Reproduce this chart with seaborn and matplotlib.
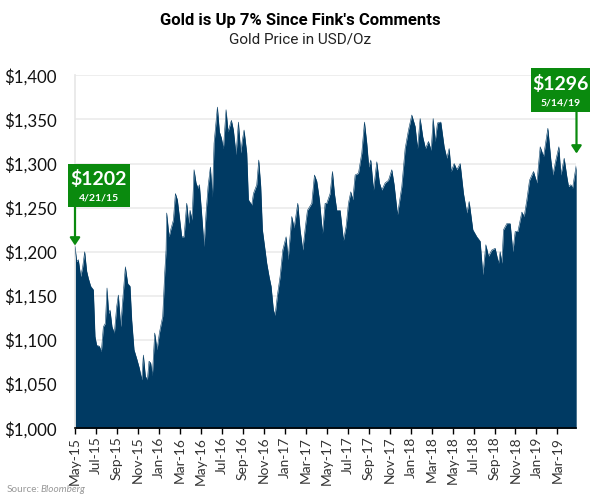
#!/usr/bin/env python
"""
Gold price area chart, May-15 to May-19.
"""

import matplotlib
matplotlib.use("Agg")
import matplotlib.pyplot as plt
import seaborn as sns
from matplotlib.patches import Rectangle

sns.set_style("white")
plt.rcParams['font.family'] = ['Lato', 'DejaVu Sans']

# position along the axis (sessions since the first point) and price
sessions = [
    0, 5, 10, 17, 23, 29, 35, 40, 47, 55, 60, 65, 73, 79, 85, 91, 96, 101, 105, 111,
    118, 125, 130, 137, 143, 151, 158, 165, 170, 177, 185, 193, 200, 205, 211, 217, 222, 227, 232, 239,
    246, 253, 263, 269, 273, 275, 282, 287, 295, 301, 307, 313, 320, 327, 335, 341, 345, 351, 357, 363,
    369, 373, 379, 387, 393, 399, 406, 412, 417, 427, 433, 439, 445, 453, 459, 469, 475, 483, 490, 497,
    502, 507, 515, 520, 530, 535, 545, 551, 557, 562, 570, 575, 582, 588, 595, 600, 607, 615, 623, 633,
    639, 650, 657, 668, 675, 683, 691, 697, 710, 718, 725, 733, 742, 750, 755, 765, 772, 778, 785, 795,
    805, 813, 820, 827, 833, 840, 850, 860, 868, 875, 881, 887, 895, 905, 913, 920, 930, 940, 950, 957,
    967, 980, 990, 1000, 1010, 1020, 1027, 1035, 1043, 1051, 1060, 1068, 1074, 1080, 1087, 1097, 1107, 1115, 1122, 1128,
    1137, 1145, 1155, 1165, 1175, 1182, 1193, 1205, 1215, 1223, 1232, 1240, 1250, 1260, 1270, 1275, 1280, 1285, 1295, 1305,
    1313, 1320, 1328, 1340, 1347, 1355, 1363, 1375, 1385, 1395, 1405, 1418, 1427, 1433, 1442, 1451, 1457, 1467, 1475, 1480,
    1487, 1492, 1503,
]
prices = [
    1206, 1189, 1191, 1172, 1183, 1200, 1178, 1170, 1161, 1157, 1104, 1094, 1093, 1087, 1115, 1119, 1159, 1130, 1134, 1115,
    1108, 1138, 1151, 1115, 1145, 1183, 1164, 1161, 1123, 1089, 1079, 1068, 1055, 1083, 1059, 1055, 1076, 1074, 1060, 1108,
    1089, 1108, 1127, 1176, 1202, 1244, 1217, 1225, 1236, 1266, 1259, 1240, 1217, 1217, 1255, 1232, 1247, 1236, 1293, 1278,
    1272, 1276, 1247, 1206, 1244, 1274, 1296, 1262, 1323, 1364, 1336, 1329, 1317, 1361, 1336, 1349, 1338, 1310, 1347, 1312,
    1327, 1338, 1312, 1259, 1253, 1266, 1276, 1304, 1274, 1225, 1202, 1187, 1172, 1161, 1134, 1128, 1151, 1172, 1202, 1217,
    1191, 1240, 1227, 1255, 1225, 1202, 1229, 1247, 1255, 1287, 1280, 1259, 1221, 1255, 1255, 1266, 1291, 1266, 1247, 1247,
    1213, 1229, 1255, 1268, 1259, 1287, 1289, 1312, 1347, 1323, 1296, 1304, 1270, 1302, 1278, 1270, 1278, 1281, 1293, 1276,
    1242, 1274, 1317, 1338, 1355, 1342, 1317, 1351, 1330, 1317, 1325, 1315, 1351, 1325, 1346, 1347, 1319, 1306, 1317, 1291,
    1300, 1293, 1300, 1266, 1244, 1257, 1225, 1217, 1212, 1174, 1208, 1195, 1202, 1204, 1187, 1200, 1187, 1225, 1232, 1232,
    1200, 1223, 1223, 1245, 1240, 1259, 1281, 1291, 1278, 1319, 1308, 1340, 1304, 1287, 1304, 1319, 1287, 1306, 1285, 1274,
    1276, 1272, 1298,
]

month_labels = [
    'May-15', 'Jul-15', 'Sep-15', 'Nov-15', 'Jan-16', 'Mar-16', 'May-16', 'Jul-16',
    'Sep-16', 'Nov-16', 'Jan-17', 'Mar-17', 'May-17', 'Jul-17', 'Sep-17', 'Nov-17',
    'Jan-18', 'Mar-18', 'May-18', 'Jul-18', 'Sep-18', 'Nov-18', 'Jan-19', 'Mar-19',
]
month_step = 62.9
y_ticks = [1000, 1050, 1100, 1150, 1200, 1250, 1300, 1350, 1400]

NAVY = '#003a63'
GREEN = '#0a8a0e'
W, H = 600, 499

fig = plt.figure(figsize=(6, 4.99), dpi=100)
ax = fig.add_axes([75 / W, 1 - 428.3 / H, (576.2 - 75) / W, (428.3 - 75.3) / H])

ax.fill_between(sessions, prices, 1000, color=NAVY, linewidth=0, zorder=2)
sns.lineplot(x=sessions, y=prices, ax=ax, color=NAVY, linewidth=0.4, zorder=3)

ax.set_xlim(0, sessions[-1])
ax.set_ylim(1000, 1400)
ax.set_yticks(y_ticks)
ax.set_yticklabels([f'${v:,}' for v in y_ticks], fontsize=12.2, color='#111111')
ax.set_xticks([i * month_step for i in range(len(month_labels))])
ax.set_xticklabels(month_labels, rotation=90, fontsize=9.9, color='#333333')
ax.tick_params(axis='x', length=4, width=1, color='black', pad=2, bottom=True)
ax.tick_params(axis='y', length=0, pad=13)
ax.grid(True, axis='y', color='#ebebeb', linewidth=1.2, zorder=0)
ax.set_axisbelow(True)
for side in ['top', 'right']:
    ax.spines[side].set_visible(False)
ax.spines['left'].set_color('#e6e6e6')
ax.spines['left'].set_linewidth(1.2)
ax.spines['bottom'].set_color('black')
ax.spines['bottom'].set_linewidth(1.2)
ax.spines['bottom'].set_zorder(5)

# titles and source
fig.text(300 / W, 1 - 20 / H, "Gold is Up 7% Since Fink's Comments", ha='center', va='center',
         fontsize=12, fontweight='bold', family='Roboto', color='black')
fig.text(300 / W, 1 - 39 / H, 'Gold Price in USD/Oz', ha='center', va='center',
         fontsize=11, family='Roboto', color='#222222')
fig.text(7 / W, 1 - 489.5 / H, 'Source:', ha='left', va='center', fontsize=7.2, color='#999999')
fig.text(41 / W, 1 - 489.5 / H, 'Bloomberg', ha='left', va='center', fontsize=7.2,
         style='italic', color='#999999')


def callout(x0, y0, x1, y1, price, date, arrow_x, arrow_y):
    """Green price box with an arrow down to the series"""
    fig.add_artist(Rectangle((x0 / W, 1 - y1 / H), (x1 - x0) / W, (y1 - y0) / H,
                             transform=fig.transFigure, color=GREEN, linewidth=0, zorder=6))
    cx = (x0 + x1) / 2 / W
    fig.text(cx, 1 - (y0 + 15.5) / H, price, ha='center', va='center', color='white', fontsize=14,
             fontweight='bold', zorder=7)
    fig.text(cx, 1 - (y0 + 34.5) / H, date, ha='center', va='center', color='white', fontsize=7.5,
             fontweight='bold', zorder=7)
    ax.annotate('', xy=(arrow_x / W, 1 - arrow_y / H), xycoords='figure fraction',
                xytext=(arrow_x / W, 1 - y1 / H), textcoords='figure fraction',
                arrowprops=dict(arrowstyle='-|>,head_width=0.3,head_length=0.45', color=GREEN,
                                linewidth=1.6, shrinkA=0, shrinkB=0), zorder=6)


callout(68, 163.5, 129.5, 207, '$1202', '4/21/15', 75, 245.5)
callout(531, 68, 590, 112, '$1296', '5/14/19', 576.5, 153.5)

plt.savefig('out.png', dpi=100)
plt.close()
